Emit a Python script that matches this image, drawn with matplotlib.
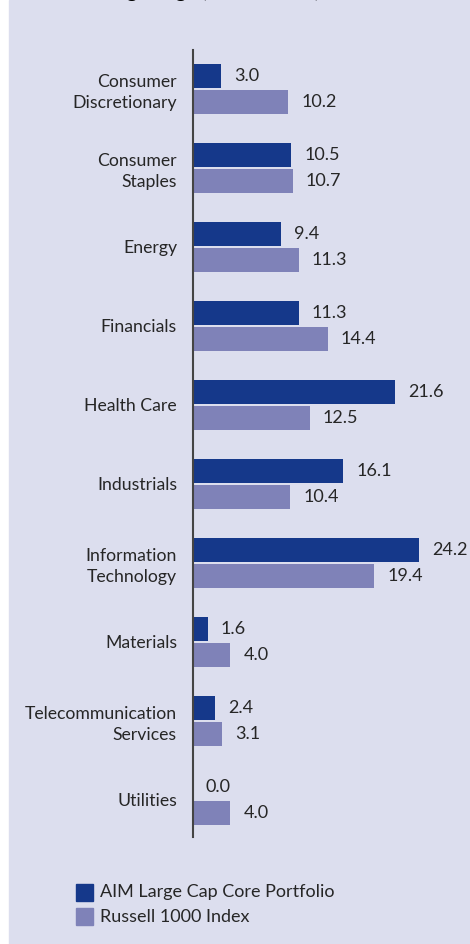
import matplotlib.pyplot as plt
from matplotlib.patches import Rectangle

sectors = ["Consumer\nDiscretionary", "Consumer\nStaples", "Energy", "Financials",
           "Health Care", "Industrials", "Information\nTechnology", "Materials",
           "Telecommunication\nServices", "Utilities"]
portfolio = [3.0, 10.5, 9.4, 11.3, 21.6, 16.1, 24.2, 1.6, 2.4, 0.0]
russell = [10.2, 10.7, 11.3, 14.4, 12.5, 10.4, 19.4, 4.0, 3.1, 4.0]
series_names = ["AIM Large Cap Core Portfolio", "Russell 1000 Index"]

dark = '#15388a'
light = '#7f82b8'
panel = '#dcdeee'
txt = '#262626'
font = 'Lato'

W, H = 470, 944
fig = plt.figure(figsize=(4.70, 9.44), dpi=100)
fig.patches.append(Rectangle((9/W, 0), 1, 1, transform=fig.transFigure,
                             color=panel, zorder=-5))

# title is cut off at the top of the crop, like in the source
fig.text(20/W, 1.0 + 3/H, "Sector Weightings (% of assets)", fontsize=15.5,
         fontweight='bold', color='black', va='baseline', family=font)

ax = fig.add_axes([193/W, 1 - 837/H, 271/W, 787/H])
ax.set_facecolor('none')

pos = list(range(len(sectors)))
bh = 0.30
off = 0.165
ax.barh([p - off for p in pos], portfolio, height=bh, color=dark)
ax.barh([p + off for p in pos], russell, height=bh, color=light)

for p, v in zip(pos, portfolio):
    ax.annotate(f"{v:.1f}", (v, p - off), xytext=(13, 0), textcoords='offset pixels',
                va='center', ha='left', fontsize=13, color=txt, family=font)
for p, v in zip(pos, russell):
    ax.annotate(f"{v:.1f}", (v, p + off), xytext=(13, 0), textcoords='offset pixels',
                va='center', ha='left', fontsize=13, color=txt, family=font)

ax.set_xlim(0, 29)
ax.set_ylim(9.47, -0.49)
ax.set_yticks(pos)
ax.set_yticklabels(sectors, fontsize=12.7, color=txt, family=font, linespacing=1.38)
ax.tick_params(axis='y', length=0, pad=11.5)
ax.set_xticks([])
for s in ['top', 'right', 'bottom']:
    ax.spines[s].set_visible(False)
ax.spines['left'].set_color('#444444')
ax.spines['left'].set_linewidth(1.5)

# legend
for i, (name, c) in enumerate(zip(series_names, [dark, light])):
    y0 = 884 + i * 24
    fig.patches.append(Rectangle((76/W, 1 - (y0 + 17)/H), 17/W, 17/H,
                                 transform=fig.transFigure, color=c))
    fig.text(100/W, 1 - (y0 + 8.5)/H, name, fontsize=13, color=txt,
             va='center', ha='left', family=font)

fig.savefig('out.png', dpi=100)
